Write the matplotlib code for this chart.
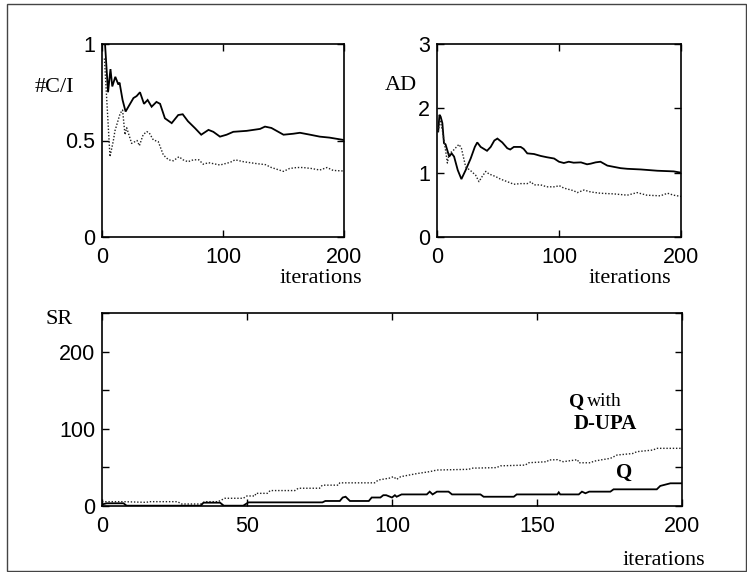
import matplotlib
matplotlib.use("Agg")
import matplotlib.pyplot as plt
from matplotlib.patches import Rectangle

# ---------------- data ----------------
ci_q_x = [2.5, 5, 7, 8.5, 11, 13.5, 14.5, 17, 19.5, 26, 28.6, 31.4, 34.7, 37.7, 41, 45, 48, 52, 57.6, 63,
          66.7, 71, 77, 82, 88, 92, 97.5, 103, 108.5, 119.6, 130.6, 134.7, 140, 150, 158, 163.6, 172, 180, 188, 199.5]
ci_q_y = [1.0, 0.75, 0.87, 0.78, 0.83, 0.79, 0.80, 0.71, 0.65, 0.72, 0.73, 0.75, 0.69, 0.71, 0.675, 0.70, 0.69, 0.615, 0.59, 0.632,
          0.636, 0.60, 0.563, 0.53, 0.555, 0.545, 0.52, 0.53, 0.545, 0.55, 0.56, 0.572, 0.565, 0.53, 0.535, 0.54, 0.53, 0.52, 0.515, 0.503]

ci_d_x = [2, 6.6, 9.4, 10.7, 15, 17, 19, 20.4, 24.5, 26, 29, 30.9, 34, 37, 39, 42.4, 46.5, 50.7, 55, 59,
          63.6, 67, 71, 75.5, 80, 83.7, 88, 97.5, 106, 110, 117, 128, 135, 140, 150, 155, 161, 166, 173, 180,
          186, 191, 199.5]
ci_d_y = [0.925, 0.416, 0.50, 0.55, 0.64, 0.658, 0.53, 0.566, 0.485, 0.49, 0.50, 0.473, 0.53, 0.546, 0.54, 0.503, 0.494, 0.425, 0.40, 0.395,
          0.416, 0.40, 0.39, 0.40, 0.40, 0.377, 0.385, 0.373, 0.387, 0.40, 0.39, 0.38, 0.375, 0.36, 0.34, 0.355, 0.36, 0.36, 0.355, 0.347,
          0.36, 0.345, 0.342]

ad_q_x = [1, 2, 3, 4.4, 5.7, 7, 10, 12, 14, 17, 20, 23.5, 27.6, 31, 33, 35.8, 41, 44, 47, 49.5,
          53.5, 57.6, 60, 63, 68.6, 71, 74, 79.5, 85, 90, 96, 100, 104, 108, 112, 118, 123, 126, 130, 134,
          139.6, 145, 150.5, 156, 167, 180.6, 194, 200]
ad_q_y = [1.64, 1.9, 1.87, 1.77, 1.46, 1.44, 1.25, 1.30, 1.25, 1.04, 0.90, 1.04, 1.22, 1.40, 1.47, 1.40, 1.34, 1.40, 1.50, 1.53,
          1.47, 1.38, 1.36, 1.40, 1.40, 1.37, 1.30, 1.29, 1.26, 1.24, 1.22, 1.17, 1.15, 1.17, 1.155, 1.16, 1.13, 1.14, 1.16, 1.17,
          1.11, 1.09, 1.07, 1.06, 1.05, 1.03, 1.02, 1.0]

ad_d_x = [1, 2.5, 4.4, 5.7, 7, 8.5, 10, 12.6, 15, 18, 20, 23.5, 27.6, 31.7, 34.4, 37, 40, 42.6, 48, 52,
          57.6, 63, 68.6, 74, 77, 79.5, 85, 90, 97, 100, 104, 112, 115, 120.5, 126, 134, 145, 156, 164, 172,
          183, 189, 194, 200]
ad_d_y = [1.64, 1.82, 1.66, 1.5, 1.35, 1.15, 1.30, 1.33, 1.38, 1.44, 1.38, 1.09, 1.03, 0.96, 0.86, 0.94, 1.02, 0.98, 0.94, 0.90,
          0.86, 0.82, 0.83, 0.83, 0.86, 0.81, 0.81, 0.78, 0.78, 0.80, 0.76, 0.72, 0.69, 0.73, 0.70, 0.68, 0.67, 0.65, 0.69, 0.65,
          0.64, 0.68, 0.65, 0.63]

sr_d_x = [0, 7.4, 15.4, 16, 26, 27.5, 34, 35.5, 40, 42.4, 48.7, 50, 52.8, 53, 57, 58, 66.5, 67.7, 75, 76,
          81.5, 82, 94, 95.3, 99, 100.5, 101.6, 103, 108.6, 113, 115.5, 126.5, 127.5, 136, 137.4, 146, 147, 153.5, 154, 157,
          159, 164, 164.4, 168.4, 169.6, 172.5, 175.3, 177.6, 183, 184.5, 190, 191.3, 200]
sr_d_y = [5.6, 5.6, 4.7, 5.6, 5.6, 2.6, 2.6, 5.6, 5.6, 10, 10, 13, 13, 16.4, 16.4, 20, 20, 23, 23, 27,
          27, 30, 30, 33.7, 36, 38, 34.5, 38, 42, 44.5, 46.6, 47.5, 49, 49.7, 52, 53, 56, 57.4, 59.6, 60,
          57.4, 60, 56, 56, 58, 60, 61.7, 66, 68, 70.4, 72.5, 74.7, 74.7]

sr_q_x = [0, 1.6, 7.4, 8.5, 34, 35, 40.7, 42, 48.7, 50.5, 76, 77, 82, 83, 84, 85.5, 92, 93, 96, 97,
          98, 100, 101, 101.6, 103.3, 112, 113, 114, 115.5, 119.5, 120.7, 130.5, 131.6, 142, 143, 157, 157.5, 158, 164.4, 165.5,
          166.7, 168, 175.3, 176.4, 191.3, 192.5, 196, 200]
sr_q_y = [2, 3.5, 3.5, 0.4, 0.4, 4.3, 4.3, 0.4, 0.4, 4.7, 4.7, 6.5, 6.5, 11, 12, 6.5, 6.5, 11, 11, 14,
          14, 11, 14, 12, 15, 15, 18.6, 15, 18.6, 18.6, 15, 15, 12, 12, 15, 15, 17.7, 15, 15, 18.6,
          16.5, 18.6, 18.6, 21.6, 21.6, 26, 29.4, 29.4]

ci_yticks = [0, 0.5, 1]
ci_yticklabels = ["0", "0.5", "1"]
ad_yticks = [0, 1, 2, 3]
top_xticks = [0, 100, 200]
sr_xticks = [0, 50, 100, 150, 200]
sr_yticks = [0, 50, 100, 150, 200, 250]
sr_yticklabels = ["0", "", "100", "", "200", ""]

# ---------------- figure ----------------
W, H = 747, 572
fig = plt.figure(figsize=(W / 100, H / 100), dpi=100)

SANS = "Liberation Sans"
SERIF = "Liberation Serif"
TICK_FS = 15.5
LAB_FS = 16


def fx(px):
    return px / W


def fy(py):
    return 1 - py / H


def make_ax(left, top, right, bottom):
    return fig.add_axes([fx(left), fy(bottom), fx(right) - fx(left), (bottom - top) / H])


def style(ax):
    for s in ax.spines.values():
        s.set_linewidth(1.2)
        s.set_color("black")
    ax.tick_params(direction="in", length=5, width=1, top=True, right=True,
                   labelsize=TICK_FS, colors="black")
    ax.tick_params(axis="x", pad=7)
    ax.tick_params(axis="y", pad=5)
    for lab in ax.get_xticklabels() + ax.get_yticklabels():
        lab.set_fontfamily(SANS)


solid_kw = dict(color="black", lw=1.3, solid_joinstyle="miter")
dot_kw = dict(color="#222222", lw=1.0, linestyle=(0, (1, 1.3)))

# Top-left: #C/I
ax1 = make_ax(102, 44, 344, 237)
ax1.plot(ci_q_x, ci_q_y, **solid_kw)
ax1.plot(ci_d_x, ci_d_y, **dot_kw)
ax1.set_xlim(0, 200)
ax1.set_ylim(0, 1)
ax1.set_xticks(top_xticks)
ax1.set_yticks(ci_yticks)
ax1.set_yticklabels(ci_yticklabels)
style(ax1)

# Top-right: AD
ax2 = make_ax(437, 44, 681, 237)
ax2.plot(ad_q_x, ad_q_y, **solid_kw)
ax2.plot(ad_d_x, ad_d_y, **dot_kw)
ax2.set_xlim(0, 200)
ax2.set_ylim(0, 3)
ax2.set_xticks(top_xticks)
ax2.set_yticks(ad_yticks)
style(ax2)

# Bottom: SR
ax3 = make_ax(102, 313, 682, 506)
ax3.plot(sr_d_x, sr_d_y, **dot_kw)
ax3.plot(sr_q_x, sr_q_y, **solid_kw)
ax3.set_xlim(0, 200)
ax3.set_ylim(0, 250)
ax3.set_xticks(sr_xticks)
ax3.set_yticks(sr_yticks)
ax3.set_yticklabels(sr_yticklabels)
style(ax3)

# Labels
fig.text(fx(321), fy(283), "iterations", family=SERIF, fontsize=LAB_FS, ha="center", va="baseline")
fig.text(fx(630), fy(283), "iterations", family=SERIF, fontsize=LAB_FS, ha="center", va="baseline")
fig.text(fx(664), fy(565), "iterations", family=SERIF, fontsize=LAB_FS, ha="center", va="baseline")
fig.text(fx(35), fy(92), "#C/I", family=SERIF, fontsize=LAB_FS, ha="left", va="baseline")
fig.text(fx(385), fy(90), "AD", family=SERIF, fontsize=LAB_FS, ha="left", va="baseline")
fig.text(fx(73), fy(324), "SR", family=SERIF, fontsize=LAB_FS, ha="right", va="baseline")

fig.text(fx(569), fy(406), "Q", family=SERIF, fontsize=14, fontweight="bold", ha="left", va="baseline")
fig.text(fx(587), fy(406), "with", family=SERIF, fontsize=14, ha="left", va="baseline")
fig.text(fx(574), fy(429), "D-UPA", family=SERIF, fontsize=15, fontweight="bold", ha="left", va="baseline")
fig.text(fx(616), fy(478), "Q", family=SERIF, fontsize=15, fontweight="bold", ha="left", va="baseline")

# Outer frame
fig.patches.append(Rectangle((fx(6.5), fy(570.5)), fx(745.5) - fx(6.5), (570.5 - 4) / H,
                             transform=fig.transFigure, fill=False, edgecolor="#444444", lw=1.0))

fig.savefig("out.png", dpi=100)
